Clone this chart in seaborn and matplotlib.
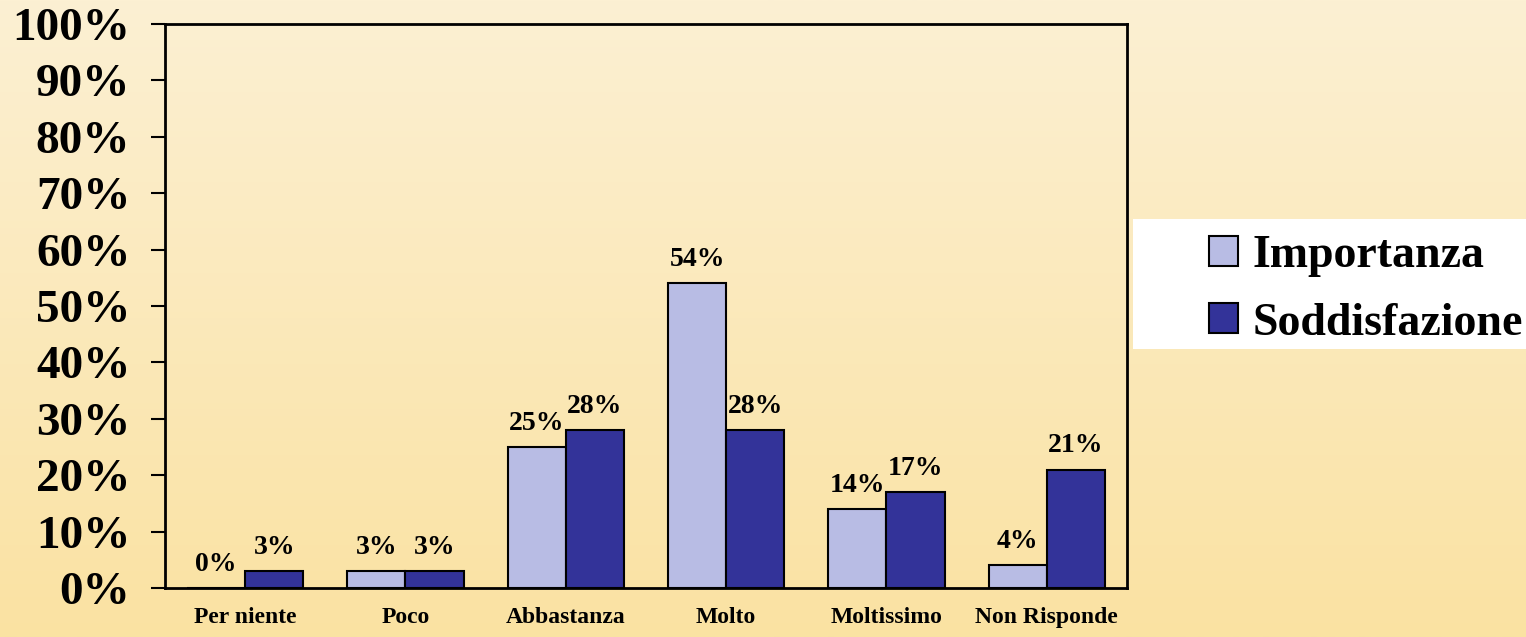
import numpy as np
import pandas as pd
import matplotlib
matplotlib.use("Agg")
import matplotlib.pyplot as plt
from matplotlib.colors import LinearSegmentedColormap
from matplotlib.patches import Patch, Rectangle
import seaborn as sns

categories = ["Per niente", "Poco", "Abbastanza", "Molto", "Moltissimo", "Non Risponde"]
series_names = ["Importanza", "Soddisfazione"]
importanza = [0, 3, 25, 54, 14, 4]
soddisfazione = [3, 3, 28, 28, 17, 21]
y_ticks = [0, 10, 20, 30, 40, 50, 60, 70, 80, 90, 100]
colors = ["#B8BCE4", "#333399"]

df = pd.DataFrame({
    "categoria": categories * 2,
    "serie": [series_names[0]] * len(categories) + [series_names[1]] * len(categories),
    "valore": importanza + soddisfazione,
})

sns.set_theme(style="white")
plt.rcParams["font.family"] = ["Liberation Serif", "DejaVu Serif"]
plt.rcParams["font.weight"] = "bold"
plt.rcParams["text.color"] = "black"
plt.rcParams["xtick.color"] = "black"
plt.rcParams["ytick.color"] = "black"
plt.rcParams["axes.labelcolor"] = "black"

W, H = 1526, 637
fig = plt.figure(figsize=(W / 100, H / 100), dpi=100)

# gradient background
bg = fig.add_axes([0, 0, 1, 1], zorder=-10)
cmap = LinearSegmentedColormap.from_list("bg", ["#FCF0D3", "#FAE2A2"])
grad = np.linspace(0, 1, 256).reshape(-1, 1)
bg.imshow(grad, aspect="auto", cmap=cmap, extent=[0, 1, 0, 1], origin="upper")
bg.set_axis_off()

ax = fig.add_axes([165 / W, 1 - 588 / H, (1127 - 165) / W, (588 - 24) / H])
ax.set_facecolor("none")

sns.barplot(data=df, x="categoria", y="valore", hue="serie", order=categories,
            hue_order=series_names, palette=colors, width=0.725,
            edgecolor="black", linewidth=1.5, saturation=1, ax=ax)

for cont in ax.containers:
    vals = [b.get_height() for b in cont]
    ax.bar_label(cont, labels=[f"{v:.0f}%" for v in vals], padding=8,
                 fontsize=20, fontweight="bold", color="black")

ax.set_ylim(0, 100)
ax.set_xlim(-0.5, len(categories) - 0.5)
ax.set_yticks(y_ticks)
ax.set_yticklabels([f"{t}%" for t in y_ticks], fontsize=34, fontweight="bold", color="black")
ax.tick_params(axis="y", direction="out", length=10, width=1.5, pad=15, color="black", left=True)
ax.tick_params(axis="x", length=0, pad=14, labelsize=17)
for lbl in ax.get_xticklabels():
    lbl.set_fontweight("bold")
    lbl.set_color("black")
ax.set_xlabel("")
ax.set_ylabel("")
for sp in ax.spines.values():
    sp.set_visible(True)
    sp.set_color("black")
    sp.set_linewidth(2)

if ax.legend_ is not None:
    ax.legend_.remove()

# white legend box
fig.patches.append(Rectangle((1133 / W, 1 - 349 / H), (W - 1133) / W, 130 / H,
                             transform=fig.transFigure, facecolor="white",
                             edgecolor="none", zorder=1))

handles = [Patch(facecolor=c, edgecolor="black", linewidth=1.5) for c in colors]
leg = fig.legend(handles, series_names, loc="center left",
                 bbox_to_anchor=(1209 / W, 1 - 290 / H),
                 prop={"family": "Liberation Serif", "weight": "bold", "size": 33},
                 frameon=False, handlelength=0.63, handleheight=0.63,
                 handletextpad=0.32, labelspacing=0.55, borderpad=0,
                 borderaxespad=0)
leg.set_zorder(5)
for t in leg.get_texts():
    t.set_color("black")

fig.savefig("out.png", dpi=100)
